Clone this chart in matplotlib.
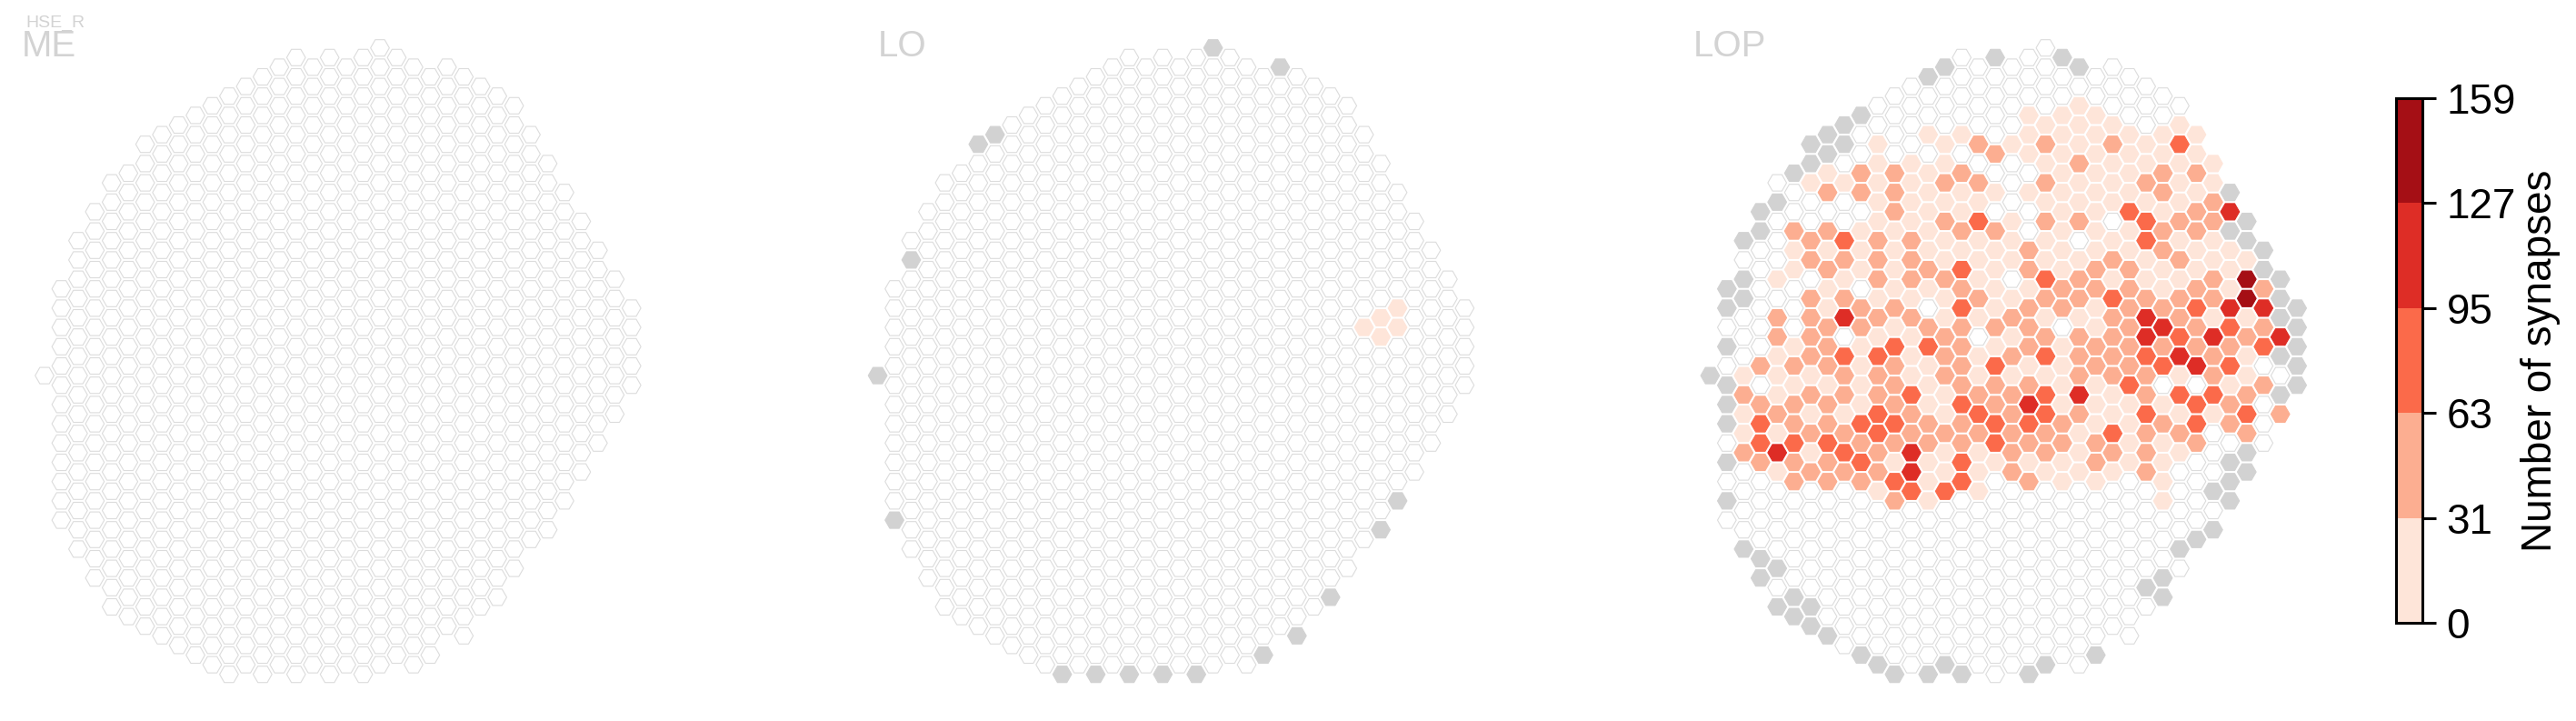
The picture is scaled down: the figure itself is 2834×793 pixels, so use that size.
import matplotlib
matplotlib.use('Agg')
import matplotlib.pyplot as plt
from matplotlib.collections import PolyCollection
from matplotlib.colors import ListedColormap, BoundaryNorm
from matplotlib.cm import ScalarMappable

plt.rcParams['font.family'] = ['Liberation Sans', 'DejaVu Sans']

# hex columns, left to right: first half-row of each column and its hex count
col_top = [34, 25, 20, 17, 14, 13, 10, 9, 8, 7, 6, 5, 4, 3, 2, 1, 2, 1,
           2, 1, 0, 1, 2, 3, 2, 3, 4, 5, 6, 9, 12, 15, 18, 21, 24, 27]
col_n = [1, 13, 17, 20, 23, 24, 26, 27, 28, 29, 30, 31, 31, 32, 32, 33, 32, 33,
         32, 33, 33, 32, 32, 31, 30, 30, 28, 27, 25, 22, 20, 17, 14, 11, 8, 5]

# LOP, one string per column: . no synapses, x not reached, 1-5 colour bin
lop_cols = [
    "x",
    "xx.x.xxx.x.x.",
    "x.xx...12112....x",
    "xx......2.2332....xx",
    ".x...1.221112141....x.x",
    "x..211...12122322.....xx",
    "xx1..22.2222121212......xx",
    "xx12.21211222122322.......x",
    "xx.1..32124.3221232.........",
    "x..22.111.2211113232........x",
    "..1111122212132233221........x",
    "....222111121322232132........x",
    "....111122212111322443.........",
    "x..1.1111121.2311122111........x",
    "x...1121211211222112113........x",
    "....1.21121323222232233.........x",
    "....2.21311121.11232111.........",
    "x....2.1.2111121322331...........",
    "....1...111.1212122222..........",
    "...111.1..2212221243212.........x",
    "....1212121132123133221.........x",
    "x..11111111122.11112211.........",
    "x.1112112.122122242111..........",
    "..11111111221122111221........x",
    "...12111.1213222211321........",
    "...111131122222231111.........",
    "...112133112443223222.....x.",
    "..1122122112423.121111...xx",
    ".131112121223413121....x.",
    "1121221123224.332....x",
    "11221122142231...x.x",
    "x4x1114323122.xxx",
    "xx1551211232xx",
    "xx2423.2...",
    "xxx4x.x2",
    "xxxxx",
]

# LO: nearly all empty, only these hexes differ
lo_gray_col = [20, 24, 6, 7, 2, 0, 1, 27, 25, 23, 11, 13, 15, 17, 19, 31, 30]
lo_gray_k = [0, 2, 10, 9, 22, 34, 49, 57, 61, 63, 65, 65, 65, 65, 65, 47, 50]
lo_light_col = [31, 30, 29, 31, 30]
lo_light_k = [27, 28, 29, 29, 30]

panel_names = ['ME', 'LO', 'LOP']
panel_x0 = [49.0, 965.6, 1881.4]
title_x = [24, 966, 1863]

cbar_ticks = [0, 31, 63, 95, 127, 159]
cbar_colors = ['#fee5d9', '#fcae91', '#fb6a4a', '#de2d26', '#a50f15']
bin_value = {'1': 15, '2': 47, '3': 79, '4': 111, '5': 143}

W, H = 2834, 793
col_w = 18.45
k_h = 10.6
y0 = 52.7
gray = '#d2d2d2'
edge = '#dcdcdc'

cmap = ListedColormap(cbar_colors)
norm = BoundaryNorm(cbar_ticks, cmap.N)


def all_cells():
    cells = []
    for c in range(len(col_top)):
        for i in range(col_n[c]):
            cells.append((c, col_top[c] + 2 * i))
    return cells


def hex_verts(c, k):
    rx = 0.56
    ry = 0.85
    return [(c - rx, k), (c - rx / 2, k - ry), (c + rx / 2, k - ry),
            (c + rx, k), (c + rx / 2, k + ry), (c - rx / 2, k + ry)]


def draw_panel(ax, codes):
    verts = []
    faces = []
    edges = []
    for (c, k) in all_cells():
        code = codes.get((c, k), '.')
        verts.append(hex_verts(c, k))
        if code == '.':
            faces.append('white')
            edges.append(edge)
        elif code == 'x':
            faces.append(gray)
            edges.append(gray)
        else:
            col = cmap(norm(bin_value[code]))
            faces.append(col)
            edges.append(col)
    pc = PolyCollection(verts, facecolors=faces, edgecolors=edges, linewidths=0.8)
    ax.add_collection(pc)


me_codes = {}
lo_codes = {}
for c, k in zip(lo_gray_col, lo_gray_k):
    lo_codes[(c, k)] = 'x'
for c, k in zip(lo_light_col, lo_light_k):
    lo_codes[(c, k)] = '1'
lop_codes = {}
for c, s in enumerate(lop_cols):
    for i, ch in enumerate(s):
        lop_codes[(c, col_top[c] + 2 * i)] = ch

fig = plt.figure(figsize=(W / 100, H / 100), dpi=100)

for x0, name, tx, codes in zip(panel_x0, panel_names, title_x, [me_codes, lo_codes, lop_codes]):
    left = x0 - col_w
    top = y0 - 2 * k_h
    ax = fig.add_axes([left / W, 1 - (top + 69 * k_h) / H, 37 * col_w / W, 69 * k_h / H])
    ax.set_xlim(-1, 36)
    ax.set_ylim(67, -2)
    ax.axis('off')
    draw_panel(ax, codes)
    fig.text(tx / W, 1 - 62 / H, name, fontsize=29, color='#d3d3d3', ha='left', va='baseline')

fig.text(28 / W, 1 - 29.5 / H, 'HSE_R', fontsize=14, color='#d3d3d3', ha='left', va='baseline')

cax = fig.add_axes([2636 / W, 1 - 685 / H, 29 / W, 577 / H])
cb = fig.colorbar(ScalarMappable(norm=norm, cmap=cmap), cax=cax, ticks=cbar_ticks,
                  spacing='uniform')
cb.outline.set_linewidth(2.2)
cb.outline.set_edgecolor('black')
cax.tick_params(length=11, width=2.2, labelsize=33, pad=8, color='black')
cb.set_label('Number of synapses', fontsize=33, labelpad=4)

fig.savefig('out.png', dpi=100)
